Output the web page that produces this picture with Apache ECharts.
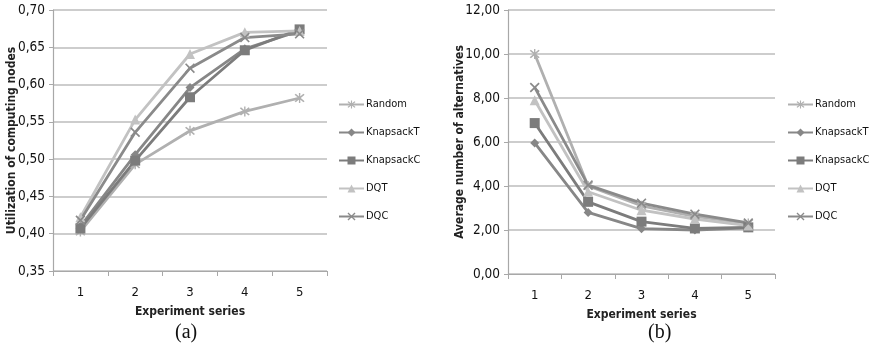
<!DOCTYPE html>
<html>
<head>
<meta charset="utf-8">
<script src="https://cdn.jsdelivr.net/npm/echarts@6/dist/echarts.min.js"></script>
<style>
  html, body { margin: 0; padding: 0; background: #fff; }
  #chart { width: 871px; height: 349px; }
</style>
</head>
<body>
<div id="chart"></div>
<script>
// Experiment series on the x axis
const categories = ['1', '2', '3', '4', '5'];
const seriesNames = ['Random', 'KnapsackT', 'KnapsackC', 'DQT', 'DQC'];

// (a) utilization of computing nodes
const utilRandom    = [0.403, 0.493, 0.538, 0.564, 0.582];
const utilKnapsackT = [0.410, 0.506, 0.596, 0.648, 0.672];
const utilKnapsackC = [0.407, 0.498, 0.583, 0.646, 0.674];
const utilDQT       = [0.422, 0.553, 0.641, 0.670, 0.672];
const utilDQC       = [0.418, 0.536, 0.622, 0.663, 0.668];

// (b) average number of alternatives
const altRandom    = [10.00, 4.00, 3.10, 2.62, 2.30];
const altKnapsackT = [5.96, 2.80, 2.06, 2.00, 2.10];
const altKnapsackC = [6.86, 3.28, 2.38, 2.07, 2.12];
const altDQT       = [7.90, 3.74, 2.90, 2.50, 2.20];
const altDQC       = [8.48, 4.04, 3.22, 2.72, 2.32];

const colors = ['#b0b0b0', '#878787', '#7c7c7c', '#c2c2c2', '#8a8a8a'];

const xShape = 'path://M0,1.2 L1.2,0 L5,3.8 L8.8,0 L10,1.2 L6.2,5 L10,8.8 L8.8,10 L5,6.2 L1.2,10 L0,8.8 L3.8,5 Z';
const starShape = 'path://M0,1.2 L1.2,0 L5,3.8 L8.8,0 L10,1.2 L6.2,5 L10,8.8 L8.8,10 L5,6.2 L1.2,10 L0,8.8 L3.8,5 Z M4.3,-1 L5.7,-1 L5.7,11 L4.3,11 Z';
const symbols = [starShape, 'diamond', 'rect', 'triangle', xShape];
const symbolSizes = [10, 9, 10, 10, 10];

const font = "'Liberation Sans Narrow', 'DejaVu Sans Condensed', 'Open Sans', sans-serif";
const gridLine = { show: true, lineStyle: { color: '#bcbcbc', width: 1.5 } };
const fmt = v => v.toFixed(2).replace('.', ',');

function makeSeries(dataSets, idx) {
  return dataSets.map((d, i) => ({
    name: seriesNames[i],
    type: 'line',
    xAxisIndex: idx,
    yAxisIndex: idx,
    data: d,
    symbol: symbols[i],
    symbolSize: symbolSizes[i],
    showAllSymbol: true,
    lineStyle: { color: colors[i], width: 2.8 },
    itemStyle: { color: colors[i] },
    animation: false
  }));
}

function xAxis(idx, name) {
  return {
    type: 'category',
    gridIndex: idx,
    data: categories,
    boundaryGap: true,
    name: name,
    nameLocation: 'middle',
    nameGap: 35,
    nameTextStyle: { fontFamily: font, fontSize: 12, fontWeight: 'bold', color: '#222' },
    axisLine: { lineStyle: { color: '#a8a8a8', width: 1.2 } },
    axisTick: { show: true, length: 5, lineStyle: { color: '#a8a8a8' } },
    axisLabel: { fontFamily: font, fontSize: 13, color: '#111', margin: 15 }
  };
}

function yAxis(idx, name, min, max, interval, gap) {
  return {
    type: 'value',
    gridIndex: idx,
    min: min, max: max, interval: interval,
    name: name,
    nameLocation: 'middle',
    nameRotate: 90,
    nameGap: gap,
    nameMoveOverlap: false,
    nameTextStyle: { fontFamily: font, fontSize: 12, fontWeight: 'bold', color: '#222' },
    axisLine: { show: true, lineStyle: { color: '#a8a8a8', width: 1.2 } },
    axisTick: { show: true, length: 4, lineStyle: { color: '#a8a8a8' } },
    splitLine: gridLine,
    axisLabel: { fontFamily: font, fontSize: 13.5, color: '#111', margin: 8, formatter: fmt }
  };
}

function legend(left) {
  return {
    data: seriesNames,
    orient: 'vertical',
    left: left,
    top: 99,
    padding: 0,
    itemWidth: 25,
    itemHeight: 10,
    itemGap: 17,
    textStyle: { fontFamily: font, fontSize: 11, color: '#111', padding: [0, 0, 0, -3] },
    selectedMode: false
  };
}

const chart = echarts.init(document.getElementById('chart'), null, { renderer: 'canvas' });
chart.setOption({
  backgroundColor: '#fff',
  animation: false,
  grid: [
    { left: 53, top: 10, width: 274, height: 261 },
    { left: 508, top: 10, width: 267, height: 264 }
  ],
  xAxis: [xAxis(0, 'Experiment series'), xAxis(1, 'Experiment series')],
  yAxis: [
    yAxis(0, 'Utilization of computing nodes', 0.35, 0.70, 0.05, 35),
    yAxis(1, 'Average number of alternatives', 0, 12, 2, 42)
  ],
  legend: [legend(338), legend(787)],
  graphic: [
    { type: 'text', left: 175, top: 323, style: { text: '(a)', font: "20px 'Liberation Serif', 'DejaVu Serif', serif", fill: '#111' } },
    { type: 'text', left: 648, top: 323, style: { text: '(b)', font: "20px 'Liberation Serif', 'DejaVu Serif', serif", fill: '#111' } }
  ],
  series: [
    ...makeSeries([utilRandom, utilKnapsackT, utilKnapsackC, utilDQT, utilDQC], 0),
    ...makeSeries([altRandom, altKnapsackT, altKnapsackC, altDQT, altDQC], 1)
  ]
});
</script>
</body>
</html>
